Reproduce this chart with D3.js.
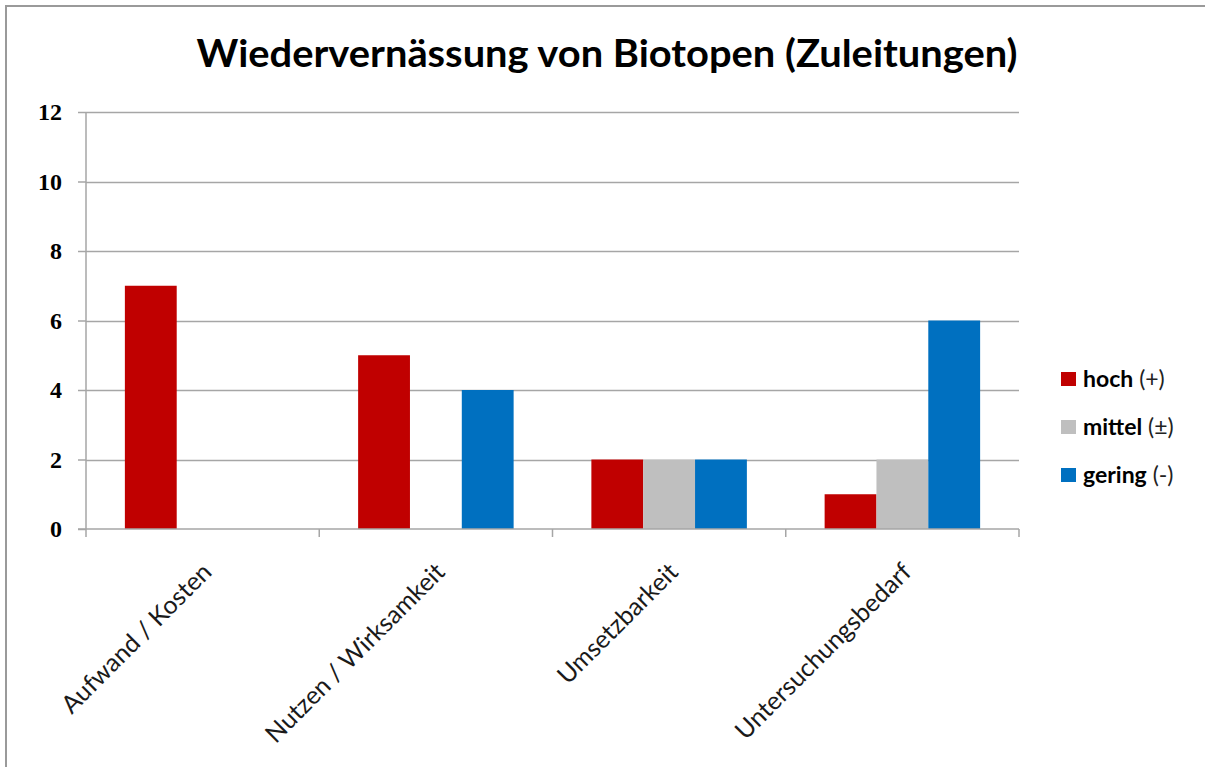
<!DOCTYPE html>
<html><head><meta charset="utf-8">
<script src="https://cdn.jsdelivr.net/npm/d3@7"></script>
<style>body{margin:0;background:#fff}svg{display:block}</style>
</head><body>
<script>
const categories = ["Aufwand / Kosten", "Nutzen / Wirksamkeit", "Umsetzbarkeit", "Untersuchungsbedarf"];
const seriesNames = ["hoch (+)", "mittel (±)", "gering (-)"];
const hoch = [7, 5, 2, 1];
const mittel = [0, 0, 2, 2];
const gering = [0, 4, 2, 6];
const yTicks = [0, 2, 4, 6, 8, 10, 12];
const colors = ["#C00000", "#BFBFBF", "#0070C0"];
const title = "Wiedervernässung von Biotopen (Zuleitungen)";

const seriesValues = [hoch, mittel, gering];
const W = 1205, H = 767;
const svg = d3.select("body").append("svg").attr("width", W).attr("height", H);

svg.append("rect").attr("x", 6).attr("y", 6).attr("width", W + 10).attr("height", H + 10)
  .attr("fill", "#fff").attr("stroke", "#9a9a9a").attr("stroke-width", 2);

const m = {left: 86, right: 1019, top: 112, bottom: 529};
const x = d3.scaleBand().domain(categories).range([m.left, m.right]).padding(0);
const bw = x.bandwidth() / 4.5;
const xs = d3.scaleBand().domain(seriesNames).range([bw * 0.75, x.bandwidth() - bw * 0.75]).padding(0);
const y = d3.scaleLinear().domain([0, 12]).range([m.bottom, m.top]);

// gridlines
svg.append("g").selectAll("line").data(yTicks.filter(d => d > 0)).join("line")
  .attr("x1", m.left).attr("x2", m.right)
  .attr("y1", d => Math.round(y(d)) + 0.5).attr("y2", d => Math.round(y(d)) + 0.5)
  .attr("stroke", "#a6a6a6").attr("stroke-width", 1.5);

// bars
const data = [];
categories.forEach((c, i) => seriesNames.forEach((s, j) => data.push({c, s, j, v: seriesValues[j][i]})));
svg.append("g").selectAll("rect").data(data.filter(d => d.v > 0)).join("rect")
  .attr("x", d => x(d.c) + xs(d.s))
  .attr("width", xs.bandwidth())
  .attr("y", d => y(d.v))
  .attr("height", d => y(0) - y(d.v))
  .attr("fill", d => colors[d.j]);

// y axis
const yAxis = d3.axisLeft(y).tickValues(yTicks).tickSize(8).tickPadding(16);
const ga = svg.append("g").attr("transform", `translate(${m.left},0)`).call(yAxis);
ga.select(".domain").attr("stroke", "#a6a6a6").attr("stroke-width", 1.5).attr("d", `M0,${m.top}V${m.bottom}`);
ga.selectAll(".tick line").attr("stroke", "#a6a6a6").attr("stroke-width", 1.5);
ga.selectAll(".tick text").attr("font-family", "'Liberation Serif', 'DejaVu Serif', serif")
  .attr("font-weight", "bold").attr("font-size", 24).attr("fill", "#000");

// x axis
const xAxis = d3.axisBottom(x).tickSize(0).tickFormat("");
const gx = svg.append("g").attr("transform", `translate(0,${m.bottom})`).call(xAxis);
gx.select(".domain").attr("stroke", "#a6a6a6").attr("stroke-width", 1.5).attr("d", `M${m.left - 8},0H${m.right}`);
const bounds = categories.map(c => x(c)).concat([m.right]);
gx.selectAll(".bt").data(bounds).join("line").attr("class", "bt")
  .attr("x1", d => d).attr("x2", d => d).attr("y1", 0).attr("y2", 8)
  .attr("stroke", "#a6a6a6").attr("stroke-width", 1.5);
gx.selectAll(".cl").data(categories).join("text").attr("class", "cl")
  .attr("transform", d => `translate(${x(d) + x.bandwidth() / 2 - 2},${32}) rotate(-45)`)
  .attr("text-anchor", "end").attr("dy", "0.71em")
  .attr("font-family", "Lato, 'Open Sans', sans-serif").attr("font-size", 25).attr("fill", "#1a1a1a")
  .text(d => d);

// title
svg.append("text").attr("x", 607).attr("y", 67).attr("text-anchor", "middle")
  .attr("font-family", "Lato, 'Open Sans', sans-serif").attr("font-weight", "bold")
  .attr("font-size", 38).attr("textLength", 821).attr("lengthAdjust", "spacingAndGlyphs")
  .attr("fill", "#000").text(title);

// legend
const lg = svg.append("g").attr("transform", "translate(1061,372)");
const li = lg.selectAll("g").data(seriesNames).join("g").attr("transform", (d, i) => `translate(0,${i * 48})`);
li.append("rect").attr("width", 15).attr("height", 14).attr("fill", (d, i) => colors[i]);
li.append("text").attr("x", 22).attr("y", 7).attr("dy", "0.35em")
  .attr("font-family", "Lato, 'Open Sans', sans-serif").attr("font-size", 23).attr("fill", "#000")
  .each(function(d) {
    const t = d3.select(this);
    const k = d.indexOf(" ");
    t.append("tspan").attr("font-weight", "bold").text(d.slice(0, k));
    t.append("tspan").attr("fill", "#222").text(" " + d.slice(k + 1));
  });
</script>
</body></html>
